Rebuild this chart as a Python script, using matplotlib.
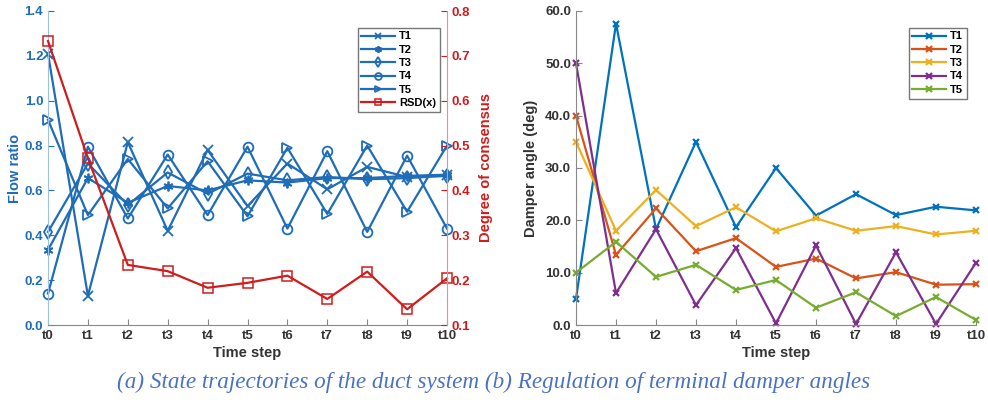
import matplotlib.pyplot as plt
import numpy as np

plt.rcParams['font.family'] = ['Liberation Sans', 'DejaVu Sans']
plt.rcParams['font.weight'] = 'bold'

# --- data ---
steps = ["t%d" % i for i in range(11)]

flow_T1 = [1.21, 0.13, 0.815, 0.42, 0.78, 0.53, 0.72, 0.605, 0.705, 0.66, 0.67]
flow_T2 = [0.335, 0.655, 0.545, 0.62, 0.60, 0.645, 0.635, 0.655, 0.655, 0.665, 0.67]
flow_T3 = [0.415, 0.72, 0.535, 0.68, 0.585, 0.675, 0.645, 0.66, 0.65, 0.655, 0.665]
flow_T4 = [0.14, 0.795, 0.475, 0.76, 0.49, 0.795, 0.43, 0.775, 0.415, 0.755, 0.43]
flow_T5 = [0.915, 0.49, 0.74, 0.52, 0.73, 0.485, 0.79, 0.495, 0.80, 0.505, 0.80]
rsd = [0.733, 0.472, 0.234, 0.220, 0.183, 0.194, 0.210, 0.158, 0.219, 0.135, 0.204]

damp_T1 = [5.0, 57.6, 18.3, 35.0, 18.7, 30.0, 20.9, 25.0, 21.0, 22.6, 21.9]
damp_T2 = [40.0, 13.4, 22.3, 14.1, 16.6, 11.1, 12.7, 8.9, 10.1, 7.7, 7.8]
damp_T3 = [35.0, 18.0, 25.8, 18.9, 22.5, 17.9, 20.4, 18.0, 18.9, 17.3, 18.0]
damp_T4 = [50.0, 6.1, 18.3, 3.8, 14.7, 0.3, 15.2, 0.2, 13.9, 0.2, 11.9]
damp_T5 = [10.0, 15.9, 9.2, 11.5, 6.7, 8.6, 3.3, 6.25, 1.7, 5.35, 0.96]

x = np.arange(len(steps))

blue = '#1f6cb7'
red = '#d01c1c'
caption_blue = '#4a72c4'

fig = plt.figure(figsize=(9.88, 4.03), dpi=100)

# --- (a) flow ratio + consensus ---
ax = fig.add_axes([48 / 988, 78 / 403, 399 / 988, 314 / 403])
ax2 = ax.twinx()

markers = ['x', (6, 2, 0), 'd', 'o', '>']
flows = [flow_T1, flow_T2, flow_T3, flow_T4, flow_T5]
handles = []
for i, (f, m) in enumerate(zip(flows, markers)):
    face = blue if i == 1 else 'none'
    h, = ax.plot(x, f, color=blue, lw=1.6, marker=m, ms=7, mfc=face,
                 mec=blue, mew=1.3, label="T%d" % (i + 1), clip_on=False)
    handles.append(h)
h, = ax2.plot(x, rsd, color=red, lw=1.6, marker='s', ms=6.5, mfc='none',
              mec=red, mew=1.1, label="RSD(x)", clip_on=False)
handles.append(h)

ax.set_xlim(0, 10)
ax.set_ylim(0, 1.4)
ax2.set_ylim(0.1, 0.8)
ax.set_xticks(x)
ax.set_xticklabels(steps)
ax.set_yticks(np.arange(0, 1.41, 0.2))
ax.set_yticklabels(["%.1f" % v for v in np.arange(0, 1.41, 0.2)])
ax2.set_yticks(np.arange(0.1, 0.81, 0.1))
ax2.set_yticklabels(["%.1f" % v for v in np.arange(0.1, 0.81, 0.1)])

for a in (ax, ax2):
    a.spines['top'].set_visible(False)
ax.spines['right'].set_visible(False)
ax2.spines['left'].set_visible(False)
ax2.spines['bottom'].set_visible(False)
ax.spines['left'].set_color('#9cc1e6')
ax2.spines['right'].set_color('#f08c8c')
ax.spines['bottom'].set_color('#888888')

ax.tick_params(axis='x', direction='in', length=4, colors='#888888',
               labelcolor='#333333', labelsize=9.5)
ax.tick_params(axis='y', direction='in', length=4, colors=blue,
               labelcolor=blue, labelsize=9.5)
ax2.tick_params(axis='y', direction='in', length=4, colors=red,
                labelcolor=red, labelsize=9.5)

ax.set_xlabel("Time step", fontsize=10.5, fontweight='bold', color='#333333', labelpad=3)
ax.set_ylabel("Flow ratio", fontsize=10.5, fontweight='bold', color=blue, labelpad=2)
ax2.set_ylabel("Degree of consensus", fontsize=10.5, fontweight='bold', color=red, labelpad=6)

leg = ax2.legend(handles=handles, loc='upper left', bbox_to_anchor=(0.762, 0.965),
                 fontsize=8, handlelength=3.0, handletextpad=0.4,
                 borderpad=0.35, labelspacing=0.3, fancybox=False,
                 framealpha=1, edgecolor='#777777', markerscale=0.7)
leg.get_frame().set_linewidth(1.0)

# --- (b) damper angles ---
bx = fig.add_axes([576 / 988, 78 / 403, 400 / 988, 314 / 403])
colors = ['#0072BD', '#D95319', '#EDB120', '#7E2F8E', '#77AC30']
damps = [damp_T1, damp_T2, damp_T3, damp_T4, damp_T5]
for i, (d, c) in enumerate(zip(damps, colors)):
    bx.plot(x, d, color=c, lw=1.6, marker='x', ms=5, mew=1.6,
            label="T%d" % (i + 1), clip_on=False)

bx.set_xlim(0, 10)
bx.set_ylim(0, 60)
bx.set_xticks(x)
bx.set_xticklabels(steps)
bx.set_yticks(np.arange(0, 61, 10))
bx.set_yticklabels(["%.1f" % v for v in np.arange(0, 61, 10)])
bx.spines['top'].set_visible(False)
bx.spines['right'].set_visible(False)
bx.spines['left'].set_color('#888888')
bx.spines['bottom'].set_color('#888888')
bx.tick_params(direction='in', length=4, colors='#888888', labelcolor='#333333',
               labelsize=9.5)
bx.set_xlabel("Time step", fontsize=10.5, fontweight='bold', color='#333333', labelpad=3)
bx.set_ylabel("Damper angle (deg)", fontsize=10.5, fontweight='bold', color='#333333', labelpad=5)

leg2 = bx.legend(loc='upper left', bbox_to_anchor=(0.8175, 0.965), fontsize=8,
                 handlelength=3.0, handletextpad=0.4, borderpad=0.35,
                 labelspacing=0.3, fancybox=False, framealpha=1,
                 edgecolor='#777777')
leg2.get_frame().set_linewidth(1.0)

fig.text(0.5, 21 / 403, "(a) State trajectories of the duct system (b) Regulation of terminal damper angles",
         ha='center', va='center', fontsize=16.7, style='italic', fontweight='normal',
         family=['Liberation Serif', 'DejaVu Serif'], color=caption_blue)

fig.savefig("out.png", dpi=100)
